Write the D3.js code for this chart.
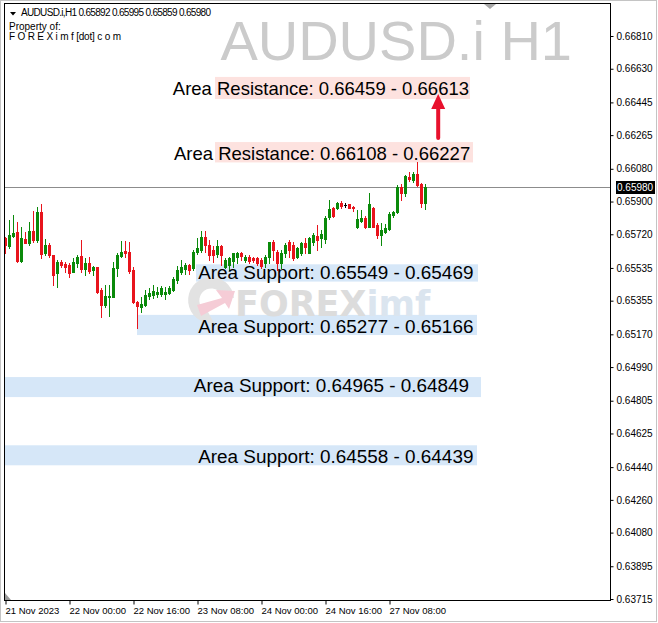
<!DOCTYPE html>
<html><head><meta charset="utf-8">
<script src="https://cdn.jsdelivr.net/npm/d3@7"></script>
<style>body{margin:0;background:#fff}svg{display:block}</style>
</head><body><svg id="c" width="658" height="623"></svg>
<script>
// ---------- DATA ----------
const symbolTitle = "AUDUSD.i H1";
const headerLine = "AUDUSD.i,H1  0.65892 0.65995 0.65859 0.65980";
const headerLine2 = "Property of:";
const headerLine3 = "F O R E X i m f [dot] c o m";

const opens = [0.65700,0.65656,0.65711,0.65733,0.65573,0.65694,0.65672,0.65738,0.65689,0.65843,
0.65617,0.65661,0.65606,0.65507,0.65568,0.65557,0.65551,0.65513,0.65562,0.65601,
0.65529,0.65562,0.65524,0.65540,0.65414,0.65331,0.65375,0.65375,0.65535,0.65601,
0.65628,0.65623,0.65524,0.65348,0.65320,0.65331,0.65381,0.65386,0.65392,0.65392,
0.65392,0.65397,0.65414,0.65469,0.65513,0.65529,0.65551,0.65535,0.65623,0.65634,
0.65705,0.65661,0.65634,0.65612,0.65656,0.65540,0.65551,0.65573,0.65595,0.65617,
0.65579,0.65595,0.65590,0.65590,0.65579,0.65562,0.65595,0.65678,0.65623,0.65562,
0.65617,0.65678,0.65661,0.65595,0.65617,0.65672,0.65617,0.65678,0.65711,0.65700,
0.65694,0.65815,0.65865,0.65865,0.65892,0.65881,0.65887,0.65870,0.65760,0.65793,
0.65810,0.65760,0.65865,0.65771,0.65716,0.65733,0.65749,0.65826,0.65843,0.65980,
0.65947,0.66035,0.66019,0.66052,0.65997,0.65892];
const highs = [0.65705,0.65799,0.65826,0.65788,0.65760,0.65733,0.65788,0.65848,0.65870,0.65887,
0.65694,0.65672,0.65606,0.65579,0.65579,0.65568,0.65562,0.65590,0.65606,0.65689,
0.65590,0.65595,0.65546,0.65540,0.65425,0.65441,0.65441,0.65568,0.65617,0.65683,
0.65683,0.65678,0.65540,0.65353,0.65375,0.65414,0.65425,0.65441,0.65430,0.65436,
0.65430,0.65436,0.65485,0.65546,0.65579,0.65562,0.65557,0.65634,0.65700,0.65738,
0.65738,0.65689,0.65656,0.65689,0.65661,0.65590,0.65595,0.65617,0.65623,0.65623,
0.65606,0.65606,0.65595,0.65595,0.65590,0.65606,0.65678,0.65689,0.65634,0.65634,
0.65672,0.65689,0.65678,0.65650,0.65678,0.65700,0.65705,0.65727,0.65771,0.65744,
0.65821,0.65909,0.65870,0.65898,0.65903,0.65892,0.65887,0.65876,0.65854,0.65854,
0.65821,0.65947,0.65870,0.65782,0.65782,0.65777,0.65843,0.65848,0.65991,0.65997,
0.66046,0.66063,0.66063,0.66118,0.66002,0.65995];
const lows = [0.65617,0.65645,0.65705,0.65568,0.65568,0.65672,0.65661,0.65678,0.65678,0.65590,
0.65606,0.65595,0.65441,0.65430,0.65540,0.65513,0.65485,0.65513,0.65540,0.65513,
0.65496,0.65507,0.65496,0.65397,0.65265,0.65320,0.65271,0.65375,0.65491,0.65595,
0.65595,0.65507,0.65342,0.65205,0.65293,0.65326,0.65364,0.65370,0.65375,0.65381,
0.65364,0.65392,0.65408,0.65452,0.65502,0.65502,0.65502,0.65524,0.65612,0.65623,
0.65623,0.65579,0.65568,0.65595,0.65551,0.65535,0.65524,0.65540,0.65562,0.65579,
0.65568,0.65562,0.65568,0.65551,0.65535,0.65540,0.65562,0.65579,0.65524,0.65535,
0.65595,0.65595,0.65579,0.65590,0.65606,0.65617,0.65617,0.65661,0.65634,0.65650,
0.65672,0.65804,0.65815,0.65859,0.65865,0.65870,0.65865,0.65848,0.65755,0.65788,
0.65755,0.65760,0.65760,0.65700,0.65661,0.65727,0.65744,0.65815,0.65837,0.65909,
0.65931,0.66013,0.66008,0.65986,0.65870,0.65859];
const closes = [0.65661,0.65716,0.65727,0.65573,0.65700,0.65672,0.65738,0.65689,0.65843,0.65612,
0.65661,0.65606,0.65496,0.65568,0.65551,0.65540,0.65507,0.65568,0.65595,0.65529,
0.65562,0.65518,0.65540,0.65403,0.65331,0.65381,0.65381,0.65535,0.65606,0.65623,
0.65617,0.65518,0.65348,0.65326,0.65337,0.65386,0.65397,0.65408,0.65403,0.65425,
0.65403,0.65425,0.65474,0.65524,0.65540,0.65551,0.65524,0.65623,0.65645,0.65705,
0.65661,0.65606,0.65606,0.65656,0.65606,0.65579,0.65590,0.65617,0.65617,0.65601,
0.65595,0.65573,0.65579,0.65562,0.65546,0.65595,0.65678,0.65634,0.65562,0.65617,
0.65661,0.65634,0.65590,0.65645,0.65672,0.65650,0.65700,0.65716,0.65689,0.65722,
0.65810,0.65859,0.65821,0.65892,0.65876,0.65881,0.65865,0.65865,0.65804,0.65810,
0.65760,0.65887,0.65760,0.65716,0.65744,0.65755,0.65832,0.65843,0.65980,0.65947,
0.66041,0.66024,0.66052,0.65991,0.65892,0.65980];

const priceTicks = ["0.66810","0.66630","0.66445","0.66265","0.66080","0.65900","0.65720","0.65535","0.65355",
"0.65170","0.64990","0.64805","0.64625","0.64440","0.64260","0.64080","0.63895","0.63715"];
const timeLabels = ["21 Nov 2023","22 Nov 00:00","22 Nov 16:00","23 Nov 08:00","24 Nov 00:00","24 Nov 16:00","27 Nov 08:00"];
const timeLabelBars = [0,16,32,48,64,80,96];
const currentPrice = 0.65980;

const zoneLabels = ["Area Resistance: 0.66459 - 0.66613","Area Resistance: 0.66108 - 0.66227",
"Area Support: 0.65549 - 0.65469","Area Support: 0.65277 - 0.65166",
"Area Support: 0.64965 - 0.64849","Area Support: 0.64558 - 0.64439"];
const zoneKinds = ["res","res","sup","sup","sup","sup"];
const zoneTop = [0.66585,0.66227,0.65555,0.65277,0.64935,0.64560];
const zoneBottom = [0.66464,0.66115,0.65460,0.65166,0.64825,0.64450];
const zoneStartBar = [52.5,52.5,47.75,33,-1,-1];
const zoneEndBar = [116.25,117,118.25,118,119,118];
const labelEndBar = [116,116.3,117.1,117.1,116,117.1];
const labelBaselinePrice = [0.66484,0.66127,0.65472,0.65180,0.64853,0.64463];
const arrowBar = 108.3;
const arrowFrom = 0.66249, arrowTo = 0.66491;

// ---------- CHART ----------
const svg = d3.select("#c");
const L = 4.5, R = 610.5, T = 3.5, B = 600.5;
const y = d3.scaleLinear().domain([0.63715, 0.66810]).range([599, 36]);
const x = d3.scaleLinear().domain([0, 105]).range([5, 425]);
const sans = "Liberation Sans, Arial, sans-serif";

svg.append("rect").attr("x",0).attr("y",0).attr("width",658).attr("height",623).attr("fill","#fff");
svg.append("rect").attr("x",0.5).attr("y",0.5).attr("width",656).attr("height",621)
  .attr("fill","none").attr("stroke","#c4c4c4");

const defs = svg.append("defs");
defs.append("clipPath").attr("id","pc").append("rect").attr("x",L).attr("y",T).attr("width",R-L).attr("height",B-T);

const plot = svg.append("g").attr("clip-path","url(#pc)");

// title watermark
plot.append("text").attr("x",572).attr("y",60).attr("text-anchor","end")
  .attr("font-family",sans).attr("font-size",56)
  .attr("fill","#cbcbcb").text(symbolTitle);

// zones
zoneLabels.forEach((lab,i)=>{
  plot.append("rect").attr("x",x(zoneStartBar[i])).attr("width",x(zoneEndBar[i])-x(zoneStartBar[i]))
    .attr("y",y(zoneTop[i])).attr("height",y(zoneBottom[i])-y(zoneTop[i]))
    .attr("fill", zoneKinds[i]==="res" ? "#fde2df" : "#d6e7f8");
});

// logo watermark
const lg = plot.append("g");
lg.append("path").attr("d","M234,298 A23,23 0 1,0 214,323 L208,312 A12,12 0 1,1 222,295 Z").attr("fill","#e2e2e2");
lg.append("path").attr("d","M197,305 L222,298 L216,290 L235,291 L229,309 L225,303 L201,316 Z").attr("fill","#f5ccd6");
lg.append("text").attr("x",235).attr("y",316).attr("font-family","DejaVu Sans, sans-serif").attr("font-weight","bold")
  .attr("font-size",35).attr("fill","#dcdcdc").text("FOREX")
  .append("tspan").attr("fill","#dbe5ef").text("imf");

// current price line
const cy = Math.round(y(currentPrice));
plot.append("line").attr("x1",L).attr("x2",R).attr("y1",cy+0.5).attr("y2",cy+0.5)
  .attr("stroke","#8c8c8c").attr("stroke-width",1);

// candles
const data = opens.map((o,i)=>({i,o,h:highs[i],l:lows[i],c:closes[i]}));
const col = d => d.c > d.o ? "#0a8a0a" : (d.c < d.o ? "#e8141c" : "#000");
const cg = plot.append("g");
cg.selectAll("line.w").data(data).join("line").attr("class","w")
  .attr("x1",d=>x(d.i)+0.5).attr("x2",d=>x(d.i)+0.5)
  .attr("y1",d=>Math.round(y(d.h))).attr("y2",d=>Math.round(y(d.l))+1)
  .attr("stroke",col).attr("stroke-width",1);
cg.selectAll("rect.b").data(data).join("rect").attr("class","b")
  .attr("x",d=>x(d.i)-1).attr("width",3)
  .attr("y",d=>Math.round(y(Math.max(d.o,d.c))))
  .attr("height",d=>Math.max(1,Math.round(y(Math.min(d.o,d.c)))-Math.round(y(Math.max(d.o,d.c)))+1))
  .attr("fill",col);

// zone labels
zoneLabels.forEach((lab,i)=>{
  plot.append("text").attr("x",x(labelEndBar[i])).attr("y",y(labelBaselinePrice[i]))
    .attr("text-anchor","end").attr("font-family",sans)
    .attr("font-size",zoneKinds[i]==="res" ? 18.5 : 18.9).attr("fill","#000").text(lab);
});

// arrow
const ax = x(arrowBar), ay1 = y(arrowFrom), ay2 = y(arrowTo);
plot.append("line").attr("x1",ax).attr("x2",ax).attr("y1",ay1).attr("y2",ay2+12)
  .attr("stroke","#e8112d").attr("stroke-width",4).attr("stroke-linecap","round");
plot.append("path").attr("d",`M${ax},${ay2} L${ax-7},${ay2+15} L${ax+7},${ay2+15} Z`).attr("fill","#e8112d");

// shift markers
svg.append("path").attr("d","M5,593 L5,600 L11,600 Z").attr("fill","#9a9a9a");
svg.append("path").attr("d","M484,4 L496,4 L490,9 Z").attr("fill","#a8a8a8");

// frame
svg.append("rect").attr("x",L).attr("y",T).attr("width",R-L).attr("height",B-T)
  .attr("fill","none").attr("stroke","#000").attr("stroke-width",1);

// right axis
const ya = svg.append("g").attr("transform",`translate(${R},0)`)
  .call(d3.axisRight(y).tickValues(priceTicks.map(Number)).tickFormat((d,i)=>priceTicks[i]).tickSize(3).tickPadding(3));
ya.select(".domain").remove();
ya.selectAll("text").attr("font-family",sans).attr("font-size",10).attr("fill","#000");
ya.selectAll("line").attr("stroke","#000");

// current price tag
svg.append("rect").attr("x",616).attr("y",cy-6).attr("width",39).attr("height",13).attr("fill","#000");
svg.append("text").attr("x",617).attr("y",cy+4).attr("font-family",sans)
  .attr("font-size",10).attr("fill","#fff").text(currentPrice.toFixed(5));

// bottom axis
const xa = svg.append("g").attr("transform",`translate(0,${B})`)
  .call(d3.axisBottom(x).tickValues(timeLabelBars).tickFormat((d,i)=>timeLabels[i]).tickSize(4));
xa.select(".domain").remove();
xa.selectAll("line").attr("stroke","#000").attr("transform","translate(0.5,0)");
xa.selectAll("text").attr("text-anchor","start").attr("dy",null).attr("y",13).attr("x",0)
  .attr("font-family",sans).attr("font-size",9.5).attr("fill","#000");

// header
svg.append("path").attr("d","M10,12 L16,12 L13,15.5 Z").attr("fill","#000");
svg.append("text").attr("x",21).attr("y",16).attr("font-family",sans).attr("font-size",10).attr("fill","#000")
  .attr("textLength",190).attr("lengthAdjust","spacing").text(headerLine);
svg.append("text").attr("x",9).attr("y",29.5).attr("font-family",sans).attr("font-size",10).attr("fill","#000").text(headerLine2);
svg.append("text").attr("x",9).attr("y",40).attr("font-family",sans).attr("font-size",10).attr("fill","#000")
  .attr("textLength",112).attr("lengthAdjust","spacing").text(headerLine3);
</script></body></html>
